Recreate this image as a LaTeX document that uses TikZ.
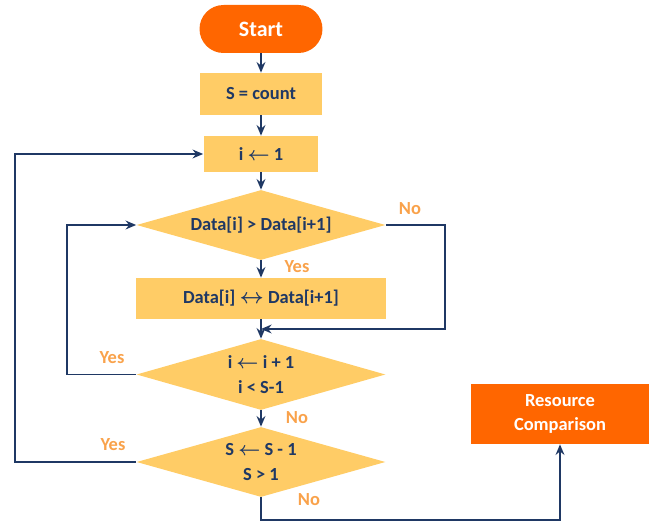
\documentclass[tikz,border=0pt]{standalone}
\usepackage{fontspec}
\setmainfont{Carlito}
\usetikzlibrary{shapes.geometric,arrows.meta}
\definecolor{navy}{HTML}{1F3864}
\definecolor{boxfill}{HTML}{FFCC66}
\definecolor{hotorange}{HTML}{FF6600}
\definecolor{labelorange}{HTML}{F9A24B}
\newcommand{\la}{{\boldmath$\leftarrow$}}
\newcommand{\lra}{{\fontsize{12}{14}\selectfont\boldmath$\leftrightarrow$}}
\begin{document}
\begin{tikzpicture}[x=0.02cm,y=-0.02cm,
  every node/.style={font=\bfseries\fontsize{10.5}{14}\selectfont, text=navy, inner sep=0pt, align=center},
  procbox/.style={rectangle, fill=boxfill, draw=none},
  decision/.style={diamond, aspect=3.55, fill=boxfill, draw=none, minimum width=4.98cm, minimum height=1.4cm},
  termbox/.style={rectangle, fill=hotorange, draw=none, text=white},
  flow/.style={draw=navy, line width=1.1pt, -{Stealth[length=6pt,width=5pt]}},
  lab/.style={text=labelorange}]
\useasboundingbox (0,0) rectangle (657,523);

% blocks
\node[termbox, rounded corners=0.48cm, minimum width=2.46cm, minimum height=0.96cm,
      font=\bfseries\fontsize{12.5}{15}\selectfont] (start) at (261,29) {Start};
\node[procbox, minimum width=2.46cm, minimum height=0.84cm] (init) at (261,94) {S = count};
\node[procbox, minimum width=2.3cm, minimum height=0.72cm] (iset) at (261,154) {i \la{} 1};
\node[decision] (cmp) at (261,225) {Data[i] > Data[i+1]};
\node[procbox, minimum width=5.02cm, minimum height=0.82cm] (swap) at (261,298.5) {Data[i] \lra{} Data[i+1]};
\node[decision, minimum height=1.42cm] (inner) at (261,374.5) {i \la{} i + 1\\ i < S-1};
\node[decision] (outer) at (261,462) {S \la{} S - 1\\ S > 1};
\node[termbox, minimum width=3.58cm, minimum height=1.2cm] (res) at (560,414) {Resource\\ Comparison};

% routing points
\coordinate (join) at (261,329);
\coordinate (noR) at (445,225);
\coordinate (yesL) at (67,374.5);
\coordinate (outL) at (15,462);
\coordinate (bot) at (261,520);

% connectors
\draw[flow] (start) -- (init);
\draw[flow] (init) -- (iset);
\draw[flow] (iset) -- (cmp);
\draw[flow] (cmp) -- (swap);
\draw[flow] (swap) -- (inner);
\draw[flow] (cmp.east) -- (noR) |- (join);
\draw[flow] (inner.west) -- (yesL) |- (cmp.west);
\draw[flow] (inner) -- (outer);
\draw[flow] (outer.west) -- (outL) |- (iset.west);
\draw[flow] (outer.south) -- (bot) -| (res.south);

% branch labels
\node[lab] at (297,267) {Yes};
\node[lab] at (410,209) {No};
\node[lab] at (112,358) {Yes};
\node[lab] at (297,418) {No};
\node[lab] at (113,445) {Yes};
\node[lab] at (309,500) {No};
\end{tikzpicture}
\end{document}
